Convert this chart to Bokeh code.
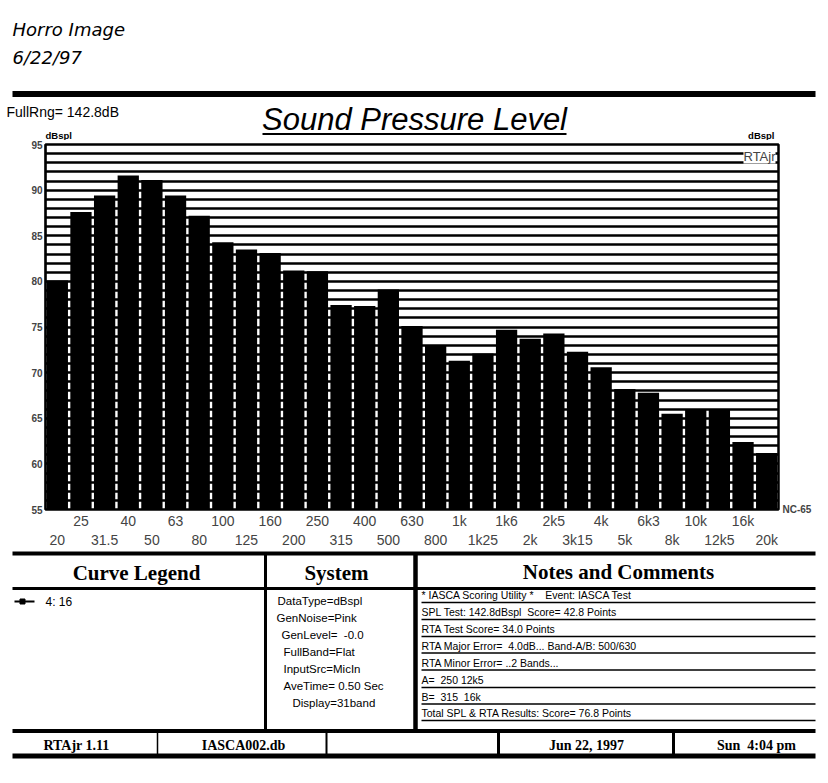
from bokeh.plotting import figure
from bokeh.models import Range1d, FixedTicker, LinearAxis, Label
from bokeh.core.properties import value
from bokeh.embed import file_html
from bokeh.resources import INLINE

# ---------------- data ----------------
bands = ["20", "25", "31.5", "40", "50", "63", "80", "100", "125", "160",
         "200", "250", "315", "400", "500", "630", "800", "1k", "1k25", "1k6",
         "2k", "2k5", "3k15", "4k", "5k", "6k3", "8k", "10k", "12k5", "16k", "20k"]
spl_db = [80.1, 87.6, 89.4, 91.6, 91.1, 89.4, 87.2, 84.3, 83.5, 83.1,
          81.2, 81.1, 77.4, 77.3, 79.1, 75.1, 73.0, 71.3, 72.1, 74.7,
          73.7, 74.3, 72.3, 70.6, 68.2, 67.8, 65.5, 66.0, 66.0, 62.4, 61.2]
y_ticks = [55, 60, 65, 70, 75, 80, 85, 90, 95]
grid_db = [55, 56, 57, 58, 59, 60, 61, 62, 63, 64, 65, 66, 67, 68, 69, 70,
           71, 72, 73, 74, 75, 76, 77, 78, 79, 80, 81, 82, 83, 84, 85, 86,
           87, 88, 89, 90, 91, 92, 93, 94, 95]
y_min, y_max = 55, 95
nc_curve = "NC-65"

NB = "\u00a0"
system_lines = ["DataType=dBspl", "GenNoise=Pink", "GenLevel=" + NB * 2 + "-0.0", "FullBand=Flat",
                "InputSrc=MicIn", "AveTime= 0.50 Sec", "Display=31band"]
notes_lines = ["* IASCA Scoring Utility *" + NB * 4 + "Event: IASCA Test",
               "SPL Test: 142.8dBspl" + NB * 2 + "Score= 42.8 Points",
               "RTA Test Score= 34.0 Points",
               "RTA Major Error=" + NB * 2 + "4.0dB... Band-A/B: 500/630",
               "RTA Minor Error= ..2 Bands...",
               "A=" + NB * 2 + "250 12k5",
               "B=" + NB * 2 + "315" + NB * 2 + "16k",
               "Total SPL & RTA Results: Score= 76.8 Points"]
footer = ["RTAjr 1.11", "IASCA002.db", "", "Jun 22, 1997", "Sun" + NB * 2 + "4:04 pm"]

W = 826
SANS = "Liberation Sans"
SERIF = "Liberation Serif"


def canvas(top, h):
    f = figure(width=W, height=h, x_range=Range1d(0, W), y_range=Range1d(top + h, top),
               output_backend="svg", toolbar_location=None, min_border=0,
               x_axis_location=None, y_axis_location=None)
    f.grid.visible = False
    f.outline_line_color = None
    return f


def txt(f, x, y, s, size, font=SANS, style="normal", align="left", baseline="middle", color="black"):
    f.text(x=[x], y=[y], text=[s], text_font=value(font), text_font_size=value(f"{size}px"),
           text_font_style=value(style), text_align=value(align), text_baseline=value(baseline),
           text_color=color)


# ---------------- header ----------------
hdr = canvas(0, 140)
txt(hdr, 12, 29, "Horro Image", 18, font="DejaVu Sans", style="italic")
txt(hdr, 12, 57, "6/22/97", 18, font="DejaVu Sans", style="italic")
hdr.segment(x0=[12], y0=[93.5], x1=[815], y1=[93.5], line_color="black", line_width=6)
txt(hdr, 6, 111, "FullRng= 142.8dB", 14)
txt(hdr, 414, 119, "Sound Pressure Level", 31, style="italic", align="center")
hdr.segment(x0=[262], y0=[133.5], x1=[566], y1=[133.5], line_color="black", line_width=2)
txt(hdr, 45, 135, "dBspl", 9.5, style="bold")
txt(hdr, 774, 135, "dBspl", 9.5, style="bold", align="right")

# ---------------- chart ----------------
idx = list(range(len(bands)))
p = figure(width=W, height=410, x_range=Range1d(-0.5, len(bands) - 0.5),
           y_range=Range1d(y_min, y_max), output_backend="svg", toolbar_location=None,
           min_border_left=45, min_border_right=W - 778, min_border_top=4, min_border_bottom=39)
p.vbar(x=idx, top=spl_db, bottom=y_min, width=0.9, fill_color="black", line_color=None)

p.xgrid.visible = False
p.ygrid.ticker = FixedTicker(ticks=grid_db)
p.ygrid.grid_line_color = "black"
p.ygrid.grid_line_width = 2.5
p.ygrid.grid_line_alpha = 1.0
p.outline_line_color = "black"
p.outline_line_width = 2.5

ya = p.yaxis[0]
ya.ticker = FixedTicker(ticks=y_ticks)
ya.major_label_text_font = SANS
ya.major_label_text_font_size = "10px"
ya.major_label_text_font_style = "bold"
ya.major_tick_out = 0
ya.major_tick_in = 0
ya.minor_tick_out = 0
ya.minor_tick_in = 0
ya.axis_line_color = "black"
ya.axis_line_width = 1.5
ya.major_label_standoff = 3

# right-hand axis carrying the NC curve name at the floor of the scale
yr = LinearAxis(ticker=FixedTicker(ticks=[y_min]), major_label_overrides={y_min: nc_curve})
yr.major_label_text_font = SANS
yr.major_label_text_font_size = "10px"
yr.major_label_text_font_style = "bold"
yr.major_label_text_baseline = "bottom"
yr.major_tick_out = 0
yr.major_tick_in = 0
yr.minor_tick_out = 0
yr.minor_tick_in = 0
yr.axis_line_color = None
yr.major_label_standoff = 4
p.add_layout(yr, "right")

odd = [i for i in idx if i % 2 == 1]
even = [i for i in idx if i % 2 == 0]

xa1 = p.xaxis[0]
xa2 = LinearAxis()
p.add_layout(xa2, "below")
for ax, ticks, sd in ((xa1, odd, 3), (xa2, even, 0)):
    ax.ticker = FixedTicker(ticks=ticks)
    ax.major_label_overrides = {i: bands[i] for i in ticks}
    ax.major_label_text_font = SANS
    ax.major_label_text_font_size = "14px"
    ax.major_tick_out = 0
    ax.major_tick_in = 0
    ax.minor_tick_out = 0
    ax.minor_tick_in = 0
    ax.axis_line_color = None
    ax.major_label_standoff = sd

p.add_layout(Label(x=len(bands) - 0.5, y=y_max, x_offset=-3, y_offset=-4, text="RTAjr",
                   text_align="right", text_baseline="top", text_font=SANS,
                   text_font_size="13px", background_fill_color="white"))

# ---------------- tables ----------------
tb = canvas(550, 225)
tb.segment(x0=[12, 12, 12, 12], y0=[553, 588, 730.5, 755.5],
           x1=[815, 815, 815, 815], y1=[553, 588, 730.5, 755.5],
           line_color="black", line_width=[4, 3, 4, 5])
tb.segment(x0=[265, 415], y0=[553, 553], x1=[265, 415], y1=[730, 730],
           line_color="black", line_width=[3, 4.5])
tb.segment(x0=[157, 326, 498, 673], y0=[731] * 4, x1=[157, 326, 498, 673], y1=[755] * 4,
           line_color="black", line_width=[1.5, 2, 3, 3])

txt(tb, 136, 572, "Curve Legend", 21, font=SERIF, style="bold", align="center")
txt(tb, 336, 572, "System", 21, font=SERIF, style="bold", align="center")
txt(tb, 618, 571, "Notes and Comments", 21, font=SERIF, style="bold", align="center")

tb.line(x=[14, 34], y=[601, 601], line_color="black", line_width=2)
tb.scatter(x=[22], y=[601], marker="square", size=5, fill_color="black", line_color="black")
txt(tb, 45, 601, "4: 16", 12)

sys_x = [277, 276, 281, 283, 283, 283, 292]
for i, s in enumerate(system_lines):
    txt(tb, sys_x[i], 600 + i * 17, s, 11.5)

note_y = [602, 619, 636, 652.5, 669.5, 687, 703.5, 720]
for s, yy in zip(notes_lines, note_y):
    txt(tb, 421, yy - 1.5, s, 10.5, baseline="bottom")
tb.segment(x0=[421] * len(note_y), y0=note_y, x1=[815] * len(note_y), y1=note_y,
           line_color="black", line_width=1.6)

foot_x = [76, 243, 412, 586, 756]
for s, xx in zip(footer, foot_x):
    if s:
        txt(tb, xx, 745, s, 14, font=SERIF, style="bold", align="center")

open("out.html", "w").write(file_html([hdr, p, tb], INLINE))
